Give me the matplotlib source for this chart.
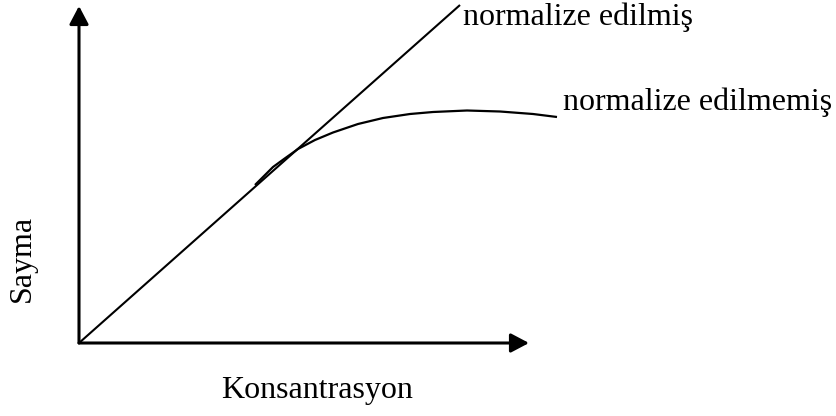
import matplotlib
matplotlib.use("Agg")
import matplotlib.pyplot as plt
from matplotlib.patches import FancyArrowPatch

# Data (units: arbitrary, origin at axes corner)
x_axis_end = 450
y_axis_end = 337
norm_x = [0, 381]
norm_y = [0, 338]
unnorm_x = [176, 185, 194, 205, 219, 236, 254, 279, 304, 331, 354, 388, 421, 454, 478]
unnorm_y = [158, 167, 176, 184, 194, 203, 210.5, 219, 225, 229, 231, 232.5, 231.5, 229, 226]
label_norm = "normalize edilmiş"
label_unnorm = "normalize edilmemiş"
xlabel = "Konsantrasyon"
ylabel = "Sayma"

fig = plt.figure(figsize=(8.37, 4.16), dpi=100)
ax = fig.add_axes([0, 0, 1, 1])
ax.set_xlim(-79, 758)
ax.set_ylim(-73, 343)
ax.axis("off")

font = dict(family="Liberation Serif", size=23, color="black")

style = "-|>,head_length=1.1,head_width=0.58"
ax.add_patch(FancyArrowPatch((0, 0), (x_axis_end, 0), arrowstyle=style,
                             mutation_scale=10, lw=2.2, color="black",
                             shrinkA=0, shrinkB=0))
ax.add_patch(FancyArrowPatch((0, 0), (0, y_axis_end), arrowstyle=style,
                             mutation_scale=10, lw=2.2, color="black",
                             shrinkA=0, shrinkB=0))

ax.plot(norm_x, norm_y, color="black", lw=1.5, solid_capstyle="butt")
ax.plot(unnorm_x, unnorm_y, color="black", lw=1.6,
        solid_joinstyle="round", solid_capstyle="butt")

ax.text(384, 318, label_norm, ha="left", va="baseline", **font)
ax.text(484, 233, label_unnorm, ha="left", va="baseline", **font)
ax.text(238, -55, xlabel, ha="center", va="baseline", **font)
ax.text(-57, 85, ylabel, ha="center", va="center", rotation=90, **font)

fig.savefig("out.png", dpi=100)
